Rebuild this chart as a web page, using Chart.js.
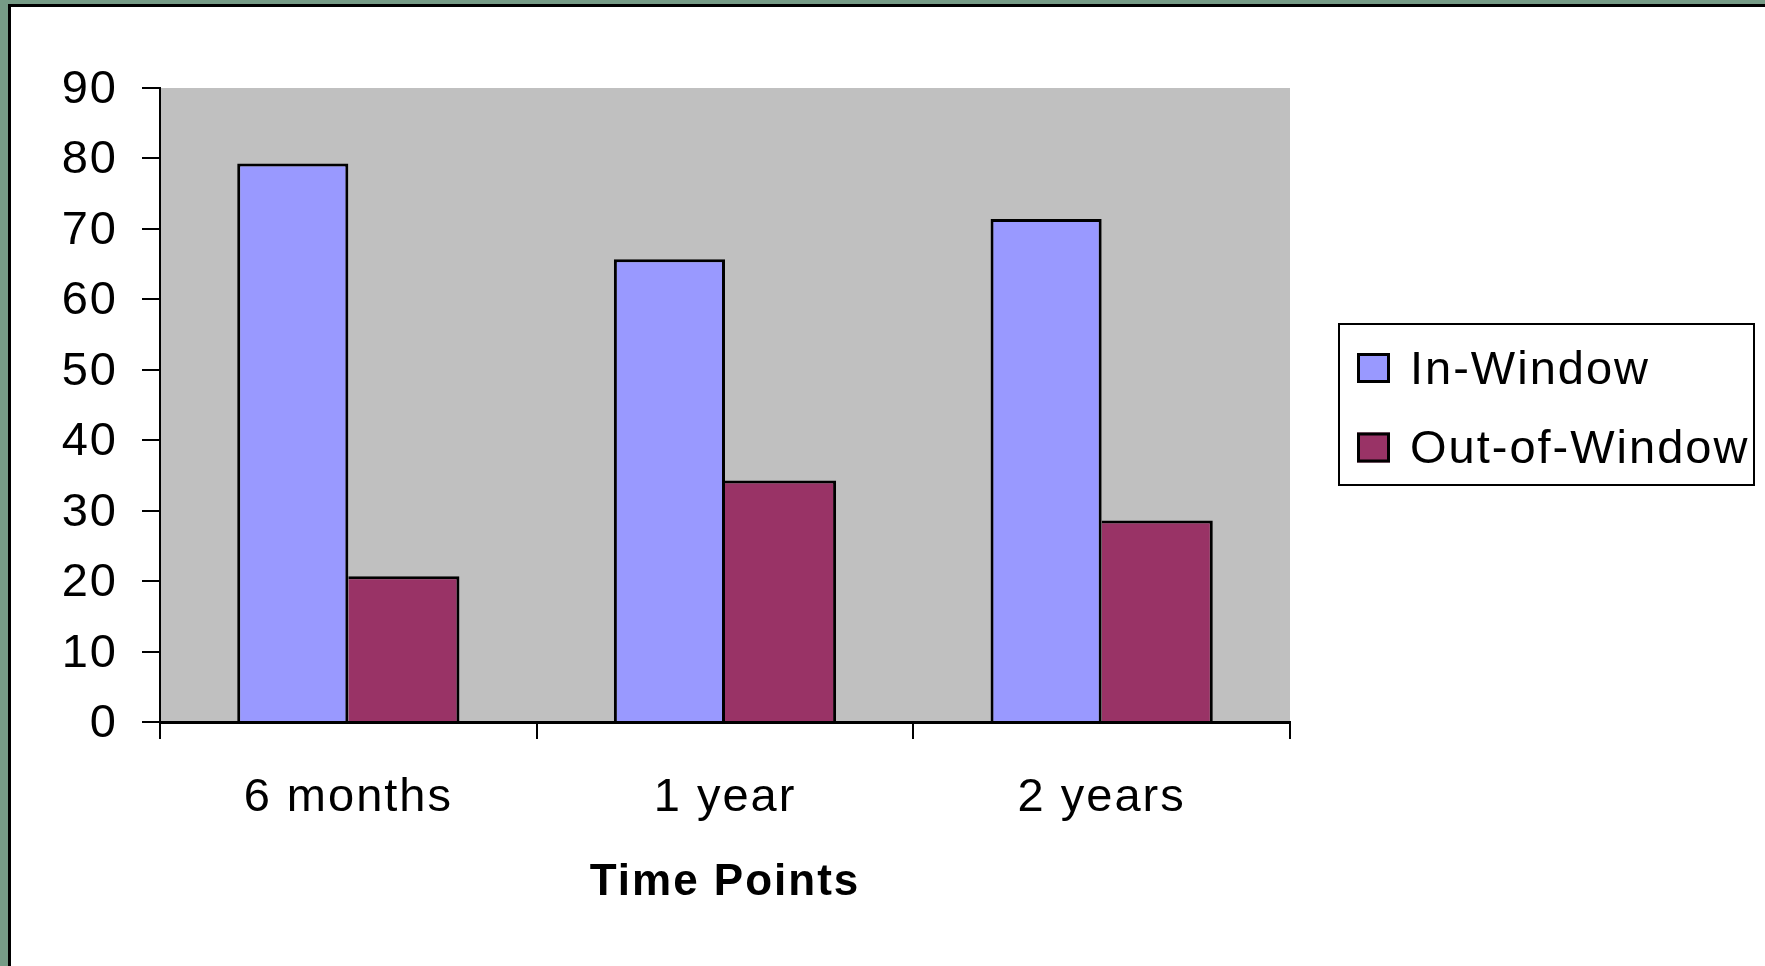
<!DOCTYPE html>
<html>
<head>
<meta charset="utf-8">
<script src="https://cdn.jsdelivr.net/npm/chart.js@4.4.1/dist/chart.umd.min.js"></script>
<style>
  html, body { margin: 0; padding: 0; }
  body { width: 1765px; height: 966px; background: #769b86; position: relative; overflow: hidden; }
  #panel { position: absolute; left: 8px; top: 4px; right: 0; bottom: 0; background: #fff;
           border-left: 3px solid #000; border-top: 3px solid #000; }
  #chart { display: block; width: 1754px; height: 959px; }
</style>
</head>
<body>
<div id="panel"><canvas id="chart" width="1754" height="959"></canvas></div>
<script>
const timePoints = ['6 months', '1 year', '2 years'];
const inWindow = [79.3, 65.7, 71.4];
const outOfWindow = [20.7, 34.3, 28.6];
const yMax = 90;
const yStep = 10;

const FONT = "'Liberation Sans', Arial, sans-serif";
const SPACING = '2px';

Chart.defaults.font.family = FONT;
Chart.defaults.color = '#000';

// wider letter spacing for all canvas text
const spacing = {
    id: 'spacing',
    beforeLayout(chart) { chart.ctx.letterSpacing = SPACING; },
    beforeDraw(chart) { chart.ctx.letterSpacing = SPACING; }
};

// grey plot area
const plotBackground = {
    id: 'plotBackground',
    beforeDraw(chart) {
        const { ctx, chartArea: a } = chart;
        ctx.save();
        ctx.fillStyle = '#c0c0c0';
        ctx.fillRect(a.left, a.top, a.right - a.left, a.bottom - a.top);
        ctx.restore();
    }
};

// framed legend on the right
const boxedLegend = {
    id: 'boxedLegend',
    afterDraw(chart, args, o) {
        const ctx = chart.ctx;
        ctx.save();
        ctx.letterSpacing = SPACING;
        ctx.strokeStyle = '#000';
        ctx.lineWidth = 2;
        ctx.strokeRect(o.left, o.top, o.width, o.height);
        ctx.font = o.fontSize + 'px ' + FONT;
        ctx.textBaseline = 'middle';
        ctx.textAlign = 'left';
        chart.data.datasets.forEach((ds, i) => {
            const cy = o.firstRow + i * o.rowGap;
            const bx = o.boxX, by = cy - o.boxH / 2;
            ctx.fillStyle = ds.backgroundColor;
            ctx.fillRect(bx, by, o.boxW, o.boxH);
            ctx.lineWidth = 3;
            ctx.strokeRect(bx + 1.5, by + 1.5, o.boxW - 3, o.boxH - 3);
            ctx.fillStyle = '#000';
            ctx.fillText(ds.label, o.textX, cy + o.textShift);
        });
        ctx.restore();
    }
};

const ctx = document.getElementById('chart');

const chart = new Chart(ctx, {
    type: 'bar',
    data: {
        labels: timePoints,
        datasets: [{
            label: 'In-Window',
            data: inWindow,
            backgroundColor: '#9999ff',
            borderColor: '#000',
            borderWidth: { top: 3, left: 3, right: 3, bottom: 0 }
        }, {
            label: 'Out-of-Window',
            data: outOfWindow,
            backgroundColor: '#993366',
            borderColor: '#000',
            borderWidth: { top: 3, left: 0, right: 3, bottom: 0 }
        }]
    },
    options: {
        responsive: false,
        animation: false,
        layout: { padding: { top: 81, right: 475, bottom: 57, left: 0 } },
        datasets: { bar: { categoryPercentage: 0.59, barPercentage: 1 } },
        plugins: {
            legend: { display: false },
            tooltip: { enabled: false },
            boxedLegend: {
                left: 1328, top: 317, width: 415, height: 161,
                boxX: 1346, boxW: 33, boxH: 30,
                textX: 1399, textShift: 3, firstRow: 361, rowGap: 79.5, fontSize: 47
            }
        },
        scales: {
            x: {
                z: 1,
                grid: { offset: true, drawOnChartArea: false, tickLength: 17, color: '#000', lineWidth: 2 },
                border: { color: '#000', width: 3 },
                ticks: { font: { size: 47 }, color: '#000', padding: 31 },
                title: {
                    display: true,
                    text: 'Time Points',
                    font: { size: 44, weight: 'bold' },
                    color: '#000',
                    padding: { top: 0, bottom: 0 }
                },
                afterFit(scale) { scale.height = 187; }
            },
            y: {
                min: 0,
                max: yMax,
                ticks: { stepSize: yStep, font: { size: 47 }, color: '#000', padding: 24, labelOffset: 2 },
                grid: { drawOnChartArea: false, tickLength: 18, color: '#000', lineWidth: 2 },
                border: { color: '#000', width: 2 },
                afterFit(scale) { scale.width = 149; }
            }
        }
    },
    plugins: [spacing, plotBackground, boxedLegend]
});
</script>
</body>
</html>
